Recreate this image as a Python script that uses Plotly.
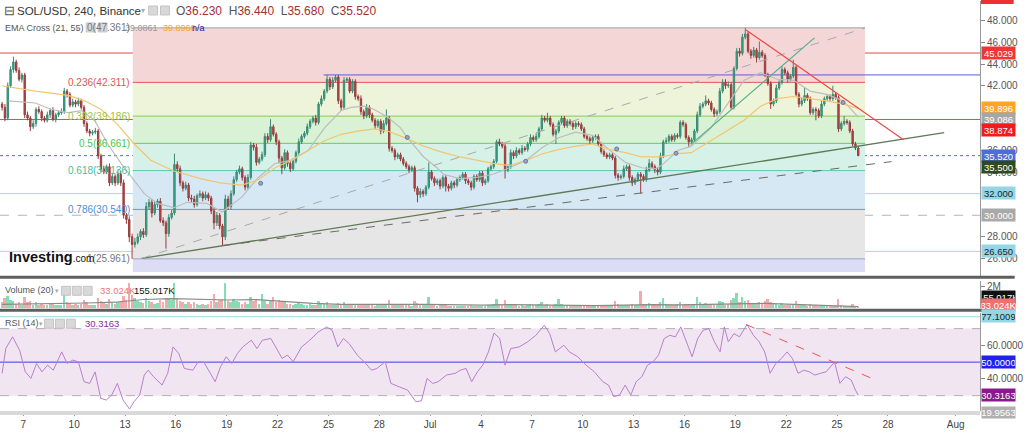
import pandas as pd
import plotly.graph_objects as go

# ---------------- data ----------------
first_open = 40.3
closes = [
    40.0, 39.0, 42.0, 43.5, 44.2, 43.4, 42.6, 43.0, 39.3, 39.0,
    38.2, 38.5, 39.8, 39.6, 39.0, 38.8, 39.3, 39.7, 38.9, 39.3,
    39.5, 39.6, 41.5, 41.2, 40.2, 40.5, 40.3, 40.6, 40.0, 38.5,
    37.8, 37.6, 37.7, 37.8, 35.5, 34.3, 34.0, 34.5, 33.0, 33.6,
    33.0, 33.8, 33.0, 30.0, 29.6, 28.0, 27.3, 27.5, 28.0, 28.5,
    28.2, 30.8, 31.2, 30.2, 31.0, 31.3, 29.5, 29.3, 28.3, 29.8,
    30.2, 34.7, 34.3, 33.0, 32.5, 32.8, 31.6, 31.5, 31.0, 31.8,
    32.0, 31.6, 31.9, 31.6, 30.4, 29.3, 30.0, 29.0, 28.0, 31.5,
    30.8, 32.0, 33.3, 34.0, 34.3, 33.5, 32.6, 33.5, 36.5, 36.3,
    34.9, 35.2, 35.6, 37.3, 37.0, 38.2, 37.5, 36.8, 35.3, 34.4,
    35.8, 34.8, 34.3, 35.0, 35.8, 36.8, 37.3, 37.6, 38.2, 38.7,
    39.0, 38.6, 40.3, 40.8, 41.5, 42.6, 41.9, 42.5, 42.8, 40.6,
    40.0, 42.5, 42.6, 41.5, 42.4, 41.0, 40.8, 39.6, 39.2, 40.0,
    39.3, 38.8, 38.3, 38.7, 37.8, 38.5, 39.0, 36.2, 36.0, 35.4,
    35.6, 35.2, 34.8, 34.5, 34.2, 34.4, 32.5, 31.9, 32.2, 32.0,
    32.6, 34.0, 33.4, 33.0, 33.2, 32.7, 33.5, 32.7, 32.5, 33.0,
    32.8, 33.3, 33.5, 33.8, 33.2, 33.0, 32.6, 33.6, 33.3, 33.9,
    33.0, 33.2, 34.3, 34.5, 35.0, 36.8, 36.6, 36.4, 34.2, 34.5,
    35.8, 35.5, 36.0, 35.8, 36.2, 36.1, 36.6, 37.2, 37.0, 37.3,
    38.0, 39.0, 38.8, 39.0, 38.4, 37.5, 37.8, 38.6, 39.0, 38.3,
    38.7, 38.5, 38.2, 38.5, 38.4, 38.0, 37.3, 37.1, 36.9, 37.2,
    37.3, 36.6, 35.9, 35.6, 35.4, 35.6, 35.3, 33.7, 33.5, 33.6,
    34.3, 34.5, 33.5, 33.0, 33.3, 33.8, 33.6, 33.3, 34.2, 34.8,
    34.5, 34.2, 34.0, 35.5, 36.8, 36.9, 37.3, 37.0, 37.4, 37.3,
    38.6, 38.4, 37.2, 36.8, 37.0, 37.8, 39.3, 40.1, 40.3, 40.6,
    40.4, 39.8, 39.4, 39.6, 41.5, 42.3, 42.0, 42.1, 40.0, 43.6,
    45.2, 45.0, 46.5, 46.8, 45.2, 44.8, 45.3, 44.6, 45.1, 44.8,
    43.0, 42.2, 40.3, 40.6, 41.8, 42.3, 43.5, 43.2, 42.6, 42.9,
    43.7, 41.2, 40.3, 40.6, 41.1, 40.8, 39.5, 39.8, 39.7, 39.2,
    40.3, 40.8, 41.0, 40.8, 41.2, 40.9, 38.0, 38.5, 38.7, 38.6,
    37.8, 36.6, 36.23, 35.52,
]
wick_up = [
    0.2, 0.3, 0.3, 0.3, 0.5, 0.2, 0.3, 0.2, 0.2, 0.3,
    0.2, 0.3, 0.2, 0.3, 0.2, 0.2, 0.3, 0.2, 0.3, 0.2,
    0.2, 0.3, 0.3, 0.2, 0.2, 0.3, 0.2, 0.3, 0.2, 0.2,
    0.2, 0.2, 0.2, 0.3, 0.2, 0.2, 0.3, 0.2, 0.3, 0.3,
    0.2, 0.4, 0.3, 0.3, 0.2, 0.3, 0.3, 0.4, 0.3, 0.2,
    0.3, 0.4, 0.3, 0.3, 0.3, 0.2, 0.3, 0.3, 0.2, 0.3,
    0.3, 1.0, 0.3, 0.3, 0.2, 0.3, 0.2, 0.3, 0.3, 0.2,
    0.3, 0.2, 0.3, 0.2, 0.2, 0.3, 0.3, 0.2, 0.2, 0.4,
    0.3, 0.3, 0.3, 0.2, 0.3, 0.2, 0.2, 0.3, 0.3, 0.2,
    0.3, 0.2, 0.3, 0.3, 0.3, 0.7, 0.2, 0.2, 0.2, 0.2,
    0.3, 0.2, 0.2, 0.3, 0.2, 0.3, 0.2, 0.2, 0.3, 0.2,
    0.2, 0.3, 0.2, 0.3, 0.2, 0.4, 0.2, 0.3, 0.2, 0.2,
    0.2, 0.3, 0.2, 0.2, 0.2, 0.2, 0.2, 0.3, 0.2, 0.3,
    0.2, 0.2, 0.2, 0.2, 0.2, 0.3, 0.8, 0.2, 0.2, 0.2,
    0.2, 0.2, 0.2, 0.2, 0.2, 0.2, 0.2, 0.2, 0.3, 0.2,
    0.2, 0.9, 0.2, 0.2, 0.2, 0.2, 0.2, 0.2, 0.2, 0.2,
    0.2, 0.2, 0.2, 0.2, 0.2, 0.2, 0.2, 0.2, 0.2, 0.2,
    0.2, 0.2, 0.2, 0.2, 0.2, 0.2, 0.3, 0.2, 0.2, 0.2,
    0.3, 0.2, 0.3, 0.2, 0.3, 0.2, 0.2, 0.3, 0.2, 0.3,
    0.2, 0.3, 0.2, 0.5, 0.2, 0.2, 0.2, 0.2, 0.2, 0.2,
    0.2, 0.2, 0.2, 0.2, 0.2, 0.2, 0.2, 0.2, 0.2, 0.2,
    0.2, 0.2, 0.2, 0.2, 0.2, 0.2, 0.2, 0.2, 0.2, 0.2,
    0.3, 0.2, 0.2, 0.2, 0.2, 0.2, 0.2, 0.2, 0.3, 0.4,
    0.2, 0.2, 0.2, 0.3, 0.2, 0.3, 0.2, 0.2, 0.2, 0.2,
    0.2, 0.2, 0.2, 0.2, 0.2, 0.2, 0.3, 0.3, 0.2, 0.5,
    0.2, 0.2, 0.2, 0.2, 0.3, 0.3, 0.3, 0.3, 0.2, 0.2,
    0.3, 0.3, 0.3, 0.56, 0.2, 0.2, 0.3, 0.2, 1.0, 0.2,
    0.2, 0.2, 0.2, 0.2, 0.3, 0.2, 0.3, 0.2, 0.2, 0.2,
    0.7, 0.2, 0.2, 0.3, 0.7, 0.2, 0.2, 0.2, 0.2, 0.2,
    0.3, 0.2, 0.2, 0.2, 0.8, 0.2, 0.2, 0.2, 0.5, 0.2,
    0.2, 0.2, 0.2, 0.21,
]
wick_dn = [
    0.3, 0.3, 0.2, 0.2, 0.3, 0.2, 0.2, 0.3, 0.3, 0.2,
    0.4, 0.2, 0.3, 0.2, 0.3, 0.2, 0.2, 0.3, 0.2, 0.3,
    0.2, 0.2, 0.2, 0.3, 0.2, 0.2, 0.3, 0.2, 0.2, 0.3,
    0.2, 0.3, 0.2, 0.2, 0.3, 0.3, 0.2, 0.2, 0.3, 0.2,
    0.3, 0.2, 0.3, 0.3, 0.4, 0.5, 1.34, 0.3, 0.2, 0.3,
    0.3, 0.2, 0.3, 0.4, 0.2, 0.3, 0.2, 0.3, 1.4, 0.3,
    0.2, 0.2, 0.3, 0.3, 0.3, 0.2, 0.3, 0.3, 0.3, 0.2,
    0.2, 0.3, 0.2, 0.3, 0.3, 0.6, 0.3, 0.3, 0.8, 0.3,
    0.3, 0.3, 0.2, 0.2, 0.2, 0.3, 0.3, 0.2, 0.2, 0.3,
    0.3, 0.2, 0.2, 0.2, 0.3, 0.2, 0.2, 0.3, 0.5, 0.6,
    0.2, 0.3, 0.3, 0.2, 0.2, 0.2, 0.2, 0.2, 0.2, 0.2,
    0.2, 0.3, 0.2, 0.2, 0.2, 0.2, 0.3, 0.2, 0.2, 0.3,
    0.3, 0.2, 0.2, 0.2, 0.2, 0.3, 0.2, 0.3, 0.3, 0.2,
    0.3, 0.2, 0.3, 0.2, 0.3, 0.2, 0.2, 0.3, 0.2, 0.3,
    0.2, 0.2, 0.2, 0.2, 0.3, 0.2, 0.3, 0.7, 0.3, 0.3,
    0.2, 0.2, 0.2, 0.3, 0.2, 0.3, 0.2, 0.5, 0.3, 0.2,
    0.3, 0.2, 0.2, 0.2, 0.3, 0.2, 0.3, 0.2, 0.2, 0.2,
    0.3, 0.2, 0.2, 0.2, 0.2, 0.2, 0.2, 0.2, 0.8, 0.2,
    0.2, 0.3, 0.2, 0.2, 0.2, 0.2, 0.2, 0.2, 0.2, 0.2,
    0.2, 0.2, 0.2, 0.2, 0.2, 0.2, 0.9, 0.2, 0.2, 0.2,
    0.2, 0.2, 0.3, 0.2, 0.2, 0.2, 0.2, 0.2, 0.3, 0.2,
    0.2, 0.2, 0.2, 0.2, 0.2, 0.2, 0.2, 0.3, 0.3, 0.2,
    0.2, 0.2, 0.3, 0.3, 0.2, 0.2, 1.6, 0.2, 0.2, 0.2,
    0.2, 0.3, 0.3, 0.2, 0.2, 0.2, 0.2, 0.2, 0.2, 0.2,
    0.2, 0.2, 0.2, 0.5, 0.2, 0.2, 0.2, 0.2, 0.2, 0.2,
    0.2, 0.2, 0.3, 0.2, 0.2, 0.2, 0.3, 0.2, 0.2, 0.2,
    0.2, 0.3, 0.2, 0.2, 0.2, 0.3, 0.2, 0.45, 0.2, 0.2,
    0.2, 0.2, 0.45, 0.2, 0.2, 0.2, 0.2, 0.2, 0.3, 0.2,
    0.2, 0.2, 0.3, 0.2, 0.2, 0.2, 0.2, 0.2, 0.9, 0.2,
    0.2, 0.2, 0.2, 0.2, 0.2, 0.2, 0.3, 0.2, 0.2, 0.2,
    0.2, 0.2, 0.2, 0.05,
]
volume_m = [
    0.5, 0.9, 1.1, 0.7, 0.6, 0.4, 0.5, 0.3, 1.0, 0.5,
    0.6, 0.3, 0.5, 0.3, 0.4, 0.25, 0.3, 0.35, 0.4, 0.3,
    0.25, 0.3, 1.48, 0.5, 0.45, 0.3, 0.35, 0.3, 0.4, 0.73,
    0.5, 0.3, 0.25, 0.3, 0.95, 0.6, 0.5, 0.4, 0.8, 0.45,
    0.4, 0.5, 0.6, 1.1, 0.7, 2.27, 1.2, 0.9, 0.6, 0.5,
    0.45, 0.9, 0.6, 0.5, 0.4, 0.45, 0.7, 0.5, 0.9, 0.8,
    0.7, 2.3, 0.8, 0.6, 0.5, 0.4, 0.55, 0.4, 0.5, 0.4,
    0.3, 0.35, 0.3, 0.4, 0.6, 1.27, 0.5, 0.7, 0.8, 2.3,
    0.6, 0.5, 0.8, 0.6, 0.5, 0.4, 0.5, 0.4, 1.0, 0.6,
    0.7, 0.4, 1.27, 0.6, 0.4, 0.7, 1.0, 0.5, 0.7, 0.6,
    0.5, 0.4, 0.35, 0.3, 0.4, 0.5, 0.35, 0.3, 0.3, 0.35,
    0.3, 0.3, 0.6, 0.4, 0.35, 0.5, 0.3, 0.25, 0.3, 0.45,
    0.35, 0.55, 0.3, 0.3, 0.25, 0.35, 0.25, 0.3, 0.25, 0.3,
    0.25, 0.3, 0.2, 0.25, 0.3, 0.25, 0.3, 0.75, 0.4, 0.3,
    0.25, 0.3, 0.3, 0.25, 0.3, 0.2, 0.6, 0.45, 0.3, 0.25,
    0.3, 1.0, 0.4, 0.3, 0.2, 0.25, 0.3, 0.25, 0.2, 0.2,
    0.15, 0.2, 0.15, 0.2, 0.15, 0.2, 0.25, 0.2, 0.15, 0.2,
    0.15, 0.2, 0.3, 0.25, 0.35, 0.85, 0.4, 0.3, 0.7, 0.3,
    0.4, 0.25, 0.3, 0.2, 0.25, 0.2, 0.3, 0.35, 0.25, 0.3,
    0.35, 0.5, 0.3, 0.35, 0.25, 0.3, 0.35, 0.8, 0.4, 0.3,
    0.25, 0.2, 0.25, 0.2, 0.15, 0.2, 0.25, 0.2, 0.2, 0.15,
    0.2, 0.25, 0.3, 0.2, 0.15, 0.2, 0.25, 0.6, 0.35, 0.25,
    0.3, 0.25, 0.3, 0.35, 0.25, 0.3, 1.55, 0.4, 0.35, 0.45,
    0.3, 0.25, 0.3, 0.5, 0.94, 0.4, 0.3, 0.25, 0.3, 0.35,
    0.5, 0.3, 0.35, 0.4, 0.3, 0.35, 1.0, 0.5, 0.4, 0.45,
    0.3, 0.35, 0.3, 0.25, 0.6, 0.5, 0.3, 0.35, 0.7, 0.9,
    1.33, 0.5, 1.03, 0.6, 0.7, 0.4, 0.35, 0.4, 0.5, 0.35,
    0.6, 0.8, 0.5, 0.4, 0.35, 0.3, 0.45, 0.3, 0.3, 0.25,
    0.4, 0.6, 0.35, 0.3, 0.25, 0.2, 0.35, 0.25, 0.3, 0.2,
    0.25, 0.2, 0.2, 0.15, 0.2, 0.15, 0.8, 0.3, 0.2, 0.15,
    0.2, 0.35, 0.2, 0.033,
]
vol_ma_idx = [0, 10, 20, 30, 40, 50, 60, 70, 80, 90, 100, 110, 120, 130, 140, 150,
              160, 170, 180, 190, 200, 210, 220, 230, 240, 250, 260, 270, 280, 290, 300, 303]
vol_ma_val = [0.35, 0.38, 0.42, 0.48, 0.55, 0.8, 0.88, 0.8, 0.75, 0.78, 0.6, 0.45, 0.35, 0.33,
              0.35, 0.36, 0.3, 0.28, 0.33, 0.3, 0.27, 0.24, 0.28, 0.33, 0.3, 0.33, 0.42, 0.45,
              0.35, 0.28, 0.2, 0.155]

ema21_idx = [2.3, 11.7, 17.5, 23.4, 28.1, 32.7, 37.4, 42.1, 46.8, 50.3, 55.0, 60.8, 65.5, 72.5,
             77.9, 84.9, 90.7, 96.6, 102.4, 108.3, 114.1, 120.0, 123.5, 128.2, 131.7, 136.4,
             141.0, 143.4, 149.2, 153.9, 156.2, 162.1, 167.9, 173.8, 179.6, 185.5, 191.3,
             197.2, 203.0, 208.9, 214.7, 220.6, 226.4, 231.1, 233.3, 239.2, 243.9, 250.9,
             256.7, 262.6, 268.4, 274.3, 280.1, 286.0, 291.8, 297.7, 303.0]
ema21_val = [40.6, 40.4, 39.8, 39.5, 39.7, 38.8, 36.6, 34.8, 33.2, 32.0, 31.1, 30.7, 31.2, 31.1,
             30.3, 31.7, 33.5, 34.8, 35.1, 36.0, 38.1, 39.7, 40.0, 40.1, 39.8, 39.1, 38.1, 37.2,
             35.4, 34.4, 33.8, 33.4, 33.5, 33.8, 34.4, 35.1, 36.3, 37.2, 37.7, 37.4, 36.1, 34.9,
             34.4, 34.3, 34.6, 36.0, 36.4, 38.1, 40.3, 42.5, 43.2, 42.6, 42.5, 41.5, 41.2,
             40.6, 39.09]
ema55_idx = [0.0, 11.7, 23.4, 29.2, 35.1, 40.9, 46.8, 52.6, 60.8, 70.2, 77.2, 84.9, 90.7,
             96.6, 102.4, 108.3, 114.1, 120.0, 125.8, 131.7, 136.4, 143.4, 149.2, 155.0,
             162.1, 173.8, 179.6, 185.5, 191.3, 197.2, 203.0, 208.9, 214.7, 220.6, 226.4,
             233.3, 239.2, 243.9, 250.9, 256.7, 262.6, 268.4, 274.3, 280.1, 286.0, 291.8,
             297.7, 303.0]
ema55_val = [42.0, 41.5, 41.1, 40.6, 39.8, 38.4, 36.6, 35.1, 34.1, 33.4, 33.0, 32.8, 33.3,
             34.4, 35.1, 36.0, 36.9, 37.5, 37.8, 38.0, 37.8, 37.1, 36.4, 35.9, 35.4, 34.8,
             34.6, 35.1, 35.7, 36.1, 36.4, 36.6, 36.1, 35.8, 35.4, 35.4, 35.7, 35.8, 36.9,
             37.8, 38.8, 40.1, 40.8, 41.0, 40.8, 40.6, 40.3, 39.9]
cross_idx = [91.5, 143.4, 185.3, 217.5, 238.5, 297.6]
cross_val = [32.96, 37.21, 35.0, 36.14, 35.74, 40.45]

rsi_idx = [0, 1.3, 3.7, 6.2, 8.2, 10.2, 12.2, 14.1, 16.1, 18.1, 21.1, 23.0, 25.0, 27.0, 29.0,
           31.0, 32.9, 34.9, 36.9, 38.8, 40.8, 42.8, 45.1, 46.7, 48.7, 50.3, 51.7, 53.6, 56.6,
           58.6, 60.5, 62.5, 64.5, 67.5, 69.4, 71.4, 73.4, 75.4, 77.3, 79.3, 81.3, 83.3, 85.2,
           88.2, 90.2, 92.1, 95.1, 97.1, 99.1, 101.0, 103.0, 106.0, 108.9, 111.9, 114.9, 116.8,
           118.8, 120.8, 122.8, 125.7, 128.7, 130.7, 132.6, 135.6, 137.6, 140.5, 143.5, 146.4,
           148.4, 150.4, 152.4, 154.3, 157.3, 160.3, 162.2, 164.2, 166.2, 168.2, 170.1, 172.1,
           174.1, 176.1, 178.0, 180.0, 183.0, 186.0, 188.9, 191.9, 193.8, 195.8, 198.8, 200.8,
           203.7, 206.7, 209.6, 212.6, 214.6, 216.5, 218.5, 220.5, 222.5, 224.4, 226.4, 228.4,
           230.4, 232.3, 234.3, 236.3, 238.3, 240.2, 242.2, 244.2, 246.2, 248.1, 250.1, 252.1,
           254.1, 255.6, 257.0, 259.0, 261.0, 263.6, 265.9, 267.9, 269.9, 271.8, 273.8, 275.8,
           277.8, 279.7, 281.7, 283.7, 285.7, 287.6, 289.6, 291.6, 294.6, 296.5, 298.5, 300.5,
           302.0, 303.0]
rsi_val = [43.3, 58.1, 65.1, 57.1, 44.2, 40.3, 49.2, 44.2, 48.2, 45.2, 56.1, 49.2, 51.2, 50.2,
           38.3, 37.3, 44.2, 28.4, 27.4, 30.4, 37.3, 27.4, 22.0, 26.4, 30.4, 42.3, 45.2, 41.3,
           36.3, 43.3, 59.1, 55.2, 46.2, 45.2, 50.2, 50.0, 44.2, 38.3, 47.2, 53.2, 49.2, 55.2,
           59.1, 63.1, 58.1, 63.1, 64.1, 58.1, 52.2, 54.2, 50.2, 59.1, 63.1, 68.0, 71.0, 69.0,
           59.1, 64.1, 61.1, 54.2, 49.2, 45.2, 46.2, 50.2, 37.3, 35.3, 33.3, 26.4, 26.9, 40.3,
           37.3, 38.3, 42.3, 43.3, 45.2, 46.2, 38.3, 44.2, 48.2, 56.1, 67.4, 64.1, 48.2, 58.1,
           59.1, 62.1, 66.0, 72.0, 67.0, 56.1, 60.1, 56.1, 53.2, 48.2, 44.2, 38.3, 36.3, 29.4,
           30.4, 36.3, 30.4, 38.3, 41.3, 48.2, 50.2, 54.2, 64.1, 66.0, 65.1, 71.0, 62.1, 53.2,
           64.1, 69.0, 70.0, 62.1, 56.1, 71.0, 62.1, 67.0, 65.1, 72.4, 66.0, 62.1, 56.1, 43.3,
           49.2, 52.2, 56.1, 52.2, 43.3, 45.2, 44.2, 42.3, 43.3, 44.2, 50.0, 37.3, 41.3, 39.3,
           33.3, 30.3]

fib_levels = [47.361, 42.311, 39.186, 36.661, 34.136, 30.540, 25.961, 24.75]
fib_names = ["0", "0.236", "0.382", "0.5", "0.618", "0.786", "1"]

price_ticks = [26, 28, 34, 36, 42, 44, 46, 48]

day_ticks = ["2021-06-07", "2021-06-10", "2021-06-13", "2021-06-16", "2021-06-19",
             "2021-06-22", "2021-06-25", "2021-06-28", "2021-07-01", "2021-07-04",
             "2021-07-07", "2021-07-10", "2021-07-13", "2021-07-16", "2021-07-19",
             "2021-07-22", "2021-07-25", "2021-07-28", "2021-08-01"]
day_labels = ["7", "10", "13", "16", "19", "22", "25", "28", "Jul", "4", "7", "10", "13",
              "16", "19", "22", "25", "28", "Aug"]

# ---------------- helpers ----------------
W, H = 1024, 433
MR, MB = 35, 18
PW, PH = W - MR, H - MB
FONT = "Liberation Sans, Arial, sans-serif"
NARROW = "Liberation Sans Narrow, Arial Narrow, Liberation Sans, sans-serif"


def px(x):
    return x / PW


def py(y):
    return 1 - y / PH


base = pd.Timestamp("2021-06-05 18:00")


def T(i):
    return base + pd.Timedelta(hours=4 * i)


n = len(closes)
xs = [T(i) for i in range(n)]
opens = [first_open] + closes[:-1]
highs = [max(o, c) + u for o, c, u in zip(opens, closes, wick_up)]
lows = [min(o, c) - d for o, c, d in zip(opens, closes, wick_dn)]

fig = go.Figure()

fig.add_trace(go.Candlestick(
    x=xs, open=opens, high=highs, low=lows, close=closes,
    increasing=dict(fillcolor="#2caa86", line=dict(color="#3a8a74", width=1)),
    decreasing=dict(fillcolor="#b84848", line=dict(color="#983c3c", width=1)),
    whiskerwidth=0, xaxis="x", yaxis="y", hoverinfo="skip"))

fig.add_trace(go.Scatter(x=[T(i) for i in ema21_idx], y=ema21_val, mode="lines",
                         line=dict(color="#bdbdbd", width=1.2), xaxis="x", yaxis="y"))
fig.add_trace(go.Scatter(x=[T(i) for i in ema55_idx], y=ema55_val, mode="lines",
                         line=dict(color="#f3c56e", width=1.2), xaxis="x", yaxis="y"))
fig.add_trace(go.Scatter(x=[T(i) for i in cross_idx], y=cross_val, mode="markers",
                         marker=dict(color="#9aa0c4", size=4, symbol="circle",
                                     line=dict(color="#6e76a8", width=1)),
                         xaxis="x", yaxis="y"))

vcol = ["#86dcb4" if c >= o else "#f4aaaa" for o, c in zip(opens, closes)]
fig.add_trace(go.Bar(x=xs, y=volume_m, marker=dict(color=vcol, line=dict(width=0)),
                     width=4 * 3600 * 1000 * 0.7, xaxis="x2", yaxis="y2"))
fig.add_trace(go.Scatter(x=[T(i) for i in vol_ma_idx], y=vol_ma_val, mode="lines",
                         line=dict(color="#8a8a8a", width=1.2), xaxis="x2", yaxis="y2"))

fig.add_trace(go.Scatter(x=[T(i) for i in rsi_idx], y=rsi_val, mode="lines",
                         line=dict(color="#b77fcc", width=1), xaxis="x3", yaxis="y3"))

shapes = []
# fib bands
band_cols = ["#f5d6d6", "#eef4d9", "#d9f1d5", "#d6f1e8", "#d6e8f4", "#e6e6e6", "#dcdcf5"]
line_cols = ["#a0a0a0", "#e05555", "#8ccc4c", "#66cc66", "#55ccaa", "#5b9bd5", "#9aa2c8"]
fx0, fx1 = T(46.25), T(305.4)
for k in range(7):
    shapes.append(dict(type="rect", xref="x", yref="y", x0=fx0, x1=fx1,
                       y0=fib_levels[k + 1], y1=fib_levels[k], fillcolor=band_cols[k],
                       line=dict(width=0), layer="below"))
for k in range(7):
    shapes.append(dict(type="line", xref="x", yref="y", x0=fx0, x1=fx1,
                       y0=fib_levels[k], y1=fib_levels[k],
                       line=dict(color=line_cols[k], width=1), layer="below"))

# full-width horizontal lines
for lvl, col, dash in [(45.029, "#e84848", "solid"), (38.874, "#e84848", "solid"),
                       (35.52, "#4a6fd0", "dot"), (32.0, "#a3d8e6", "solid"),
                       (30.0, "#b4b4b4", "dash"), (26.65, "#a3d8e6", "solid")]:
    shapes.append(dict(type="line", xref="paper", yref="y", x0=0, x1=1, y0=lvl, y1=lvl,
                       line=dict(color=col, width=1, dash=dash), layer="below"))
shapes.append(dict(type="line", xref="x", yref="y", x0=T(113.8), x1=T(350), y0=43.0, y1=43.0,
                   line=dict(color="#5a5ae8", width=1), layer="below"))

# trend lines
for (i0, p0, i1, p1, col, dash, w) in [
        (49.4, 26.0, 333.4, 37.65, "#5f7a55", "solid", 1.3),
        (49.4, 26.0, 305.4, 47.35, "#a8a8a8", "dash", 1),
        (78.2, 27.2, 314.8, 34.97, "#6a6a6a", "dash", 1),
        (243.7, 36.54, 287.5, 46.43, "#4fb08a", "solid", 1.2),
        (263.3, 47.17, 319.0, 37.0, "#f04848", "solid", 1.2)]:
    shapes.append(dict(type="line", xref="x", yref="y", x0=T(i0), x1=T(i1), y0=p0, y1=p1,
                       line=dict(color=col, width=w, dash=dash)))

# RSI band and levels
shapes.append(dict(type="rect", xref="paper", yref="y3", x0=0, x1=1, y0=30, y1=70,
                   fillcolor="#f2e5f2", line=dict(width=0), layer="below"))
for lvl, col, dash in [(70, "#b0b0b0", "dash"), (30, "#b0b0b0", "dash"),
                       (50, "#3a3af0", "solid"), (77.1, "#a3d8e6", "solid")]:
    shapes.append(dict(type="line", xref="paper", yref="y3", x0=0, x1=1, y0=lvl, y1=lvl,
                       line=dict(color=col, width=1, dash=dash), layer="below"))
shapes.append(dict(type="line", xref="x3", yref="y3", x0=T(263.3), x1=T(307.8), y0=72.4,
                   y1=40.3, line=dict(color="#f05555", width=1, dash="dash")))

# panel separators and bottom band
for y0, y1, col, xr in [(275.5, 278.5, "#5e5e5e", W), (308.5, 311.5, "#5e5e5e", W),
                        (411, 415, "#d9d9d9", PW)]:
    shapes.append(dict(type="rect", xref="paper", yref="paper", x0=0, x1=px(xr),
                       y0=py(y1), y1=py(y0), fillcolor=col, line=dict(width=0)))

# header icon boxes
for (x0, y0) in [(150, 5), (162, 5), (87, 22), (99, 22), (62, 286), (73, 286), (84, 286),
                 (45, 319), (56, 319), (67, 319)]:
    shapes.append(dict(type="rect", xref="paper", yref="paper", x0=px(x0), x1=px(x0 + 9),
                       y0=py(y0 + 9), y1=py(y0), fillcolor="#d8d8d8",
                       line=dict(color="#c4c4c4", width=1)))
# cut-off red label at top right
shapes.append(dict(type="rect", xref="paper", yref="paper", x0=px(990), x1=px(1023),
                   y0=py(3), y1=py(-2), fillcolor="#f03030", line=dict(width=0)))

ann = []


def txt(x, y, text, size=10, color="#555", anchor="left", family=FONT):
    ann.append(dict(xref="paper", yref="paper", x=px(x), y=py(y), text=text, showarrow=False,
                    xanchor=anchor, yanchor="middle", font=dict(size=size, color=color,
                                                                 family=family)))


def label(yv, yref, text, bg, fg="white"):
    ann.append(dict(xref="paper", yref=yref, x=1, xanchor="left", xshift=1, y=yv,
                    yanchor="middle", text=text, showarrow=False, bgcolor=bg,
                    font=dict(size=9.5, color=fg, family=FONT), width=33, height=12,
                    borderpad=0, align="center"))


# header
txt(2, 10, "⊟", 13, "#555")
txt(15, 10, "SOL/USD, 240, Binance", 11.5, "#333")
txt(140, 10, "▾", 8, "#aaa")
txt(176, 10, 'O<span style="color:#a53030">36.230</span>  H<span style="color:#a53030">36.440'
              '</span>  L<span style="color:#a53030">35.680</span>  C<span style="color:#a53030">'
              '35.520</span>', 12, "#555")
txt(3, 27, "EMA Cross (21, 55)", 9, "#555", family=NARROW)
txt(75, 27, "▾", 6, "#aaa")
txt(124, 27, "39.0861", 9, "#999")
txt(162, 27, "39.8960", 9, "#f5a623")
txt(192, 27, "n/a", 9, "#20209a")

# fib labels
for k in range(7):
    col = ["#777777", "#e05555", "#9ac23c", "#4cc44c", "#3cc49c", "#4a90d0", "#777777"][k]
    txt(133, 20 + (48 - fib_levels[k]) * 10.82, f"{fib_names[k]}({fib_levels[k]:.3f})", 10, col,
        anchor="right")

# logo
txt(7, 257, '<b>Investing</b><span style="font-size:10px">.com</span>', 14.5, "#111")

# volume / rsi headers
txt(3, 290, "Volume (20)", 9, "#555", family=NARROW)
txt(53, 290, "▾", 7, "#aaa")
txt(99, 290, "33.024K", 9.5, "#f07575")
txt(133, 290, "155.017K", 9.5, "#111")
txt(3, 323, "RSI (14)", 9, "#555", family=NARROW)
txt(37, 323, "▾", 7, "#aaa")
txt(84, 323, "30.3163", 9.5, "#8a2a9a")

# right axis value labels
label(45.029, "y", "45.029", "#f03535")
label(39.93, "y", "39.896", "#ffa424")
label(38.915, "y", "39.086", "#a6a6a6")
label(37.9, "y", "38.874", "#f01c1c")
label(35.52, "y", "35.520", "#4b6fd6")
label(34.51, "y", "35.500", "#2f4a22")
label(32.03, "y", "32.000", "#95d6e6", "#222")
label(29.98, "y", "30.000", "#a9a9a9")
label(26.65, "y", "26.650", "#95d6e6", "#222")
label(1.06, "y2", "155.017K", "#111111")
label(0.27, "y2", "33.024K", "#f07070")
label(77.6, "y3", "77.1009", "#95d6e6", "#222")
label(50, "y3", "50.0000", "#2020f0")
label(30.3163, "y3", "30.3163", "#8a1a8a")
ann.append(dict(xref="paper", yref="paper", x=1, xanchor="left", xshift=1, y=py(412),
                yanchor="middle", text="19.9563", showarrow=False, bgcolor="#b0b0b0",
                font=dict(size=9.5, color="white", family=FONT), width=33, height=11,
                borderpad=0))

axis_common = dict(showgrid=False, zeroline=False)
rng = ["2021-06-05 15:02", "2021-08-02 10:19"]
fig.update_layout(
    width=W, height=H, margin=dict(l=0, r=MR, t=0, b=MB),
    paper_bgcolor="white", plot_bgcolor="white", showlegend=False,
    font=dict(family=FONT, size=10, color="#555"),
    hovermode=False,
    xaxis=dict(domain=[0, 1], anchor="y", range=rng, type="date", showticklabels=False,
               rangeslider=dict(visible=False), ticks="", **axis_common),
    xaxis2=dict(domain=[0, 1], anchor="y2", matches="x", type="date", showticklabels=False,
                ticks="", **axis_common),
    xaxis3=dict(domain=[0, 1], anchor="y3", matches="x", type="date",
                tickvals=day_ticks, ticktext=day_labels, ticks="outside", ticklen=4,
                tickcolor="#999", tickfont=dict(size=10, color="#444", family=NARROW),
                **axis_common),
    yaxis=dict(domain=[py(276), 1], anchor="x", side="right", range=[24.34, 49.85],
               tickvals=price_ticks, ticktext=[f"{v:.3f}" for v in price_ticks],
               ticks="outside", ticklen=4, tickcolor="#888", showline=True, linecolor="#999",
               tickfont=dict(size=10, color="#555"), **axis_common),
    yaxis2=dict(domain=[py(308), py(281)], anchor="x2", side="right", range=[0, 2.4545],
                tickvals=[2], ticktext=["2M"], ticks="outside", ticklen=4, tickcolor="#888",
                showline=True, linecolor="#999", tickfont=dict(size=10, color="#555"),
                **axis_common),
    yaxis3=dict(domain=[py(411), py(313)], anchor="x3", side="right", range=[20.83, 79.17],
                tickvals=[40, 60], ticktext=["40.0000", "60.0000"], ticks="outside", ticklen=4,
                tickcolor="#888", showline=True, linecolor="#999",
                tickfont=dict(size=10, color="#555"), **axis_common),
    shapes=shapes, annotations=ann, bargap=0,
)

fig.write_html("out.html")
